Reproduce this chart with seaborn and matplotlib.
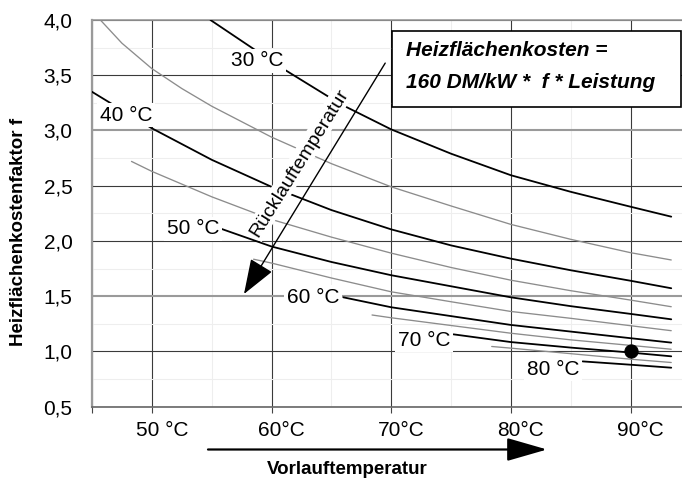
import matplotlib
matplotlib.use("Agg")
import matplotlib.pyplot as plt
import matplotlib.transforms as mtransforms
from matplotlib.patches import Rectangle, FancyArrowPatch
import numpy as np
import pandas as pd
import seaborn as sns

# Vorlauftemperatur (°C) und Heizflächenkostenfaktor f je Rücklauftemperatur
vorlauf_30 = [54.9, 58.2, 61.1, 64.7, 66.3, 70, 75, 80, 85, 90, 93.4]
faktor_30 = [4.0, 3.76, 3.55, 3.31, 3.21, 3.01, 2.79, 2.595, 2.445, 2.31, 2.22]
vorlauf_35 = [45.7, 47.5, 50, 52.5, 55, 60, 65, 70, 75, 80, 85, 90, 93.4]
faktor_35 = [4.0, 3.79, 3.56, 3.38, 3.22, 2.94, 2.70, 2.49, 2.317, 2.15, 2.015, 1.894, 1.828]
vorlauf_40 = [45, 50, 55, 60, 65, 70, 75, 80, 85, 90, 93.4]
faktor_40 = [3.35, 3.02, 2.735, 2.49, 2.28, 2.105, 1.96, 1.84, 1.735, 1.64, 1.572]
vorlauf_45 = [48.3, 50, 55, 60, 65, 70, 75, 80, 85, 90, 93.4]
faktor_45 = [2.72, 2.63, 2.40, 2.195, 2.035, 1.89, 1.76, 1.645, 1.55, 1.465, 1.405]
vorlauf_50 = [55.8, 60, 65, 70, 75, 80, 85, 90, 93.4]
faktor_50 = [2.11, 1.95, 1.81, 1.69, 1.59, 1.49, 1.41, 1.34, 1.291]
vorlauf_55 = [58.5, 60, 65, 70, 75, 80, 85, 90, 93.4]
faktor_55 = [1.835, 1.80, 1.665, 1.54, 1.45, 1.362, 1.30, 1.233, 1.188]
vorlauf_60 = [66.0, 70, 75, 80, 85, 90, 93.4]
faktor_60 = [1.49, 1.40, 1.32, 1.24, 1.18, 1.12, 1.08]
vorlauf_65 = [68.4, 70, 75, 80, 85, 90, 93.4]
faktor_65 = [1.33, 1.305, 1.235, 1.165, 1.105, 1.055, 1.02]
vorlauf_70 = [75.2, 80, 85, 90, 93.4]
faktor_70 = [1.155, 1.085, 1.035, 0.99, 0.956]
vorlauf_75 = [78.4, 80, 85, 90, 93.4]
faktor_75 = [1.045, 1.03, 0.98, 0.93, 0.90]
vorlauf_80 = [86.0, 90, 93.4]
faktor_80 = [0.91, 0.88, 0.853]

ruecklauf = [30, 35, 40, 45, 50, 55, 60, 65, 70, 75, 80]
vorlauf_all = [vorlauf_30, vorlauf_35, vorlauf_40, vorlauf_45, vorlauf_50, vorlauf_55,
               vorlauf_60, vorlauf_65, vorlauf_70, vorlauf_75, vorlauf_80]
faktor_all = [faktor_30, faktor_35, faktor_40, faktor_45, faktor_50, faktor_55,
              faktor_60, faktor_65, faktor_70, faktor_75, faktor_80]

# Auslegungspunkt 90/70
punkt_vorlauf = [90]
punkt_faktor = [1.0]

# Kurvenbeschriftungen
label_text = ['30 °C', '40 °C', '50 °C', '60 °C', '70 °C', '80 °C']
label_vorlauf = [58.8, 47.85, 53.45, 63.45, 72.75, 83.5]
label_faktor = [3.63, 3.14, 2.11, 1.49, 1.10, 0.84]

x_ticks = [45, 50, 60, 70, 80, 90]
x_ticklabels = ['', '50 °C', '60°C', '70°C', '80°C', '90°C']
y_ticks = [0.5, 1.0, 1.5, 2.0, 2.5, 3.0, 3.5, 4.0]
y_ticklabels = ['0,5', '1,0', '1,5', '2,0', '2,5', '3,0', '3,5', '4,0']

df = pd.concat([
    pd.DataFrame({'Vorlauf': v, 'f': f, 'Ruecklauf': r})
    for v, f, r in zip(vorlauf_all, faktor_all, ruecklauf)
], ignore_index=True)

sns.set_style("white")
plt.rcParams['font.family'] = ['Liberation Sans', 'DejaVu Sans']
plt.rcParams['text.color'] = 'black'
plt.rcParams['xtick.color'] = 'black'
plt.rcParams['ytick.color'] = 'black'
plt.rcParams['axes.labelcolor'] = 'black'

W, H = 682, 480
fig = plt.figure(figsize=(W / 100, H / 100), dpi=100)
ax = fig.add_axes([92 / W, 1 - 406.7 / H, 590 / W, 386.7 / H])

for r in ruecklauf:
    sub = df[df['Ruecklauf'] == r]
    black = r % 10 == 0
    sns.lineplot(data=sub, x='Vorlauf', y='f', ax=ax, sort=False, estimator=None,
                 color='black' if black else '#8c8c8c',
                 linewidth=1.3 if black else 0.95, zorder=3)

sns.scatterplot(x=punkt_vorlauf, y=punkt_faktor, ax=ax, color='black', s=90,
                edgecolor='black', zorder=6)

for t, xv, yv in zip(label_text, label_vorlauf, label_faktor):
    ax.text(xv, yv, t, fontsize=15, ha='center', va='center', zorder=5,
            bbox=dict(boxstyle='square,pad=0.12', fc='white', ec='none'))

# Pfeil Rücklauftemperatur
ax.annotate('', xy=(57.7, 1.52), xytext=(69.5, 3.61), zorder=7,
            arrowprops=dict(arrowstyle='-|>,head_length=1.1,head_width=0.4',
                            color='black', lw=1.0, mutation_scale=20,
                            shrinkA=0, shrinkB=0))
ax.text(62.3, 2.71, 'Rücklauftemperatur', rotation=58, fontsize=14,
        ha='center', va='center', rotation_mode='anchor', zorder=5,
        bbox=dict(boxstyle='square,pad=0.1', fc='white', ec='none'))

ax.set_xlim(45, 94.3)
ax.set_ylim(0.5, 4.0)
ax.set_xticks(x_ticks)
ax.set_xticklabels(x_ticklabels)
ax.set_yticks(y_ticks)
ax.set_yticklabels(y_ticklabels)
ax.set_xticks([55, 65, 75, 85], minor=True)
ax.set_yticks(np.arange(0.75, 4.0, 0.5), minor=True)
ax.tick_params(axis='x', which='major', length=4, width=0.8, color='#444444',
               direction='out', pad=6, labelsize=15, bottom=True)
ax.tick_params(axis='y', which='major', length=0, pad=14, labelsize=15)
ax.tick_params(which='minor', length=0)
ax.set_xlabel('')
ax.set_ylabel('')

ax.grid(True, which='major', color='#3a3a3a', linewidth=0.8)
ax.grid(True, which='minor', color='#eeeeee', linewidth=0.8)
ax.set_axisbelow(True)
for val, line in zip(y_ticks, ax.get_ygridlines()):
    if val in (1.5, 3.0):
        line.set_color('#9a9a9a')
        line.set_linewidth(1.5)

ax.spines['right'].set_visible(False)
ax.spines['left'].set_color('#9a9a9a')
ax.spines['left'].set_linewidth(1.6)
ax.spines['top'].set_color('#9a9a9a')
ax.spines['top'].set_linewidth(1.2)
ax.spines['bottom'].set_color('#666666')
ax.spines['bottom'].set_linewidth(1.2)

# Tick-Beschriftungen leicht nach rechts versetzt
shift = mtransforms.ScaledTranslation(10 / 100, 0, fig.dpi_scale_trans)
for lab in ax.get_xticklabels():
    lab.set_transform(lab.get_transform() + shift)

fig.text(18.5 / W, 1 - 231.5 / H, 'Heizflächenkostenfaktor f', rotation=90,
         fontsize=13.5, fontweight='bold', ha='center', va='center')
fig.text(347 / W, 1 - 470 / H, 'Vorlauftemperatur', fontsize=13.5,
         fontweight='bold', ha='center', va='center')
fig.add_artist(FancyArrowPatch(
    (208 / W, 1 - 449.5 / H), (547 / W, 1 - 449.5 / H), transform=fig.transFigure,
    arrowstyle='-|>,head_length=1.25,head_width=0.36', mutation_scale=20,
    color='black', lw=1.6, shrinkA=0, shrinkB=0))

# Kostenformel-Kasten
fig.add_artist(Rectangle((391.7 / W, 1 - 106.7 / H), 289 / W, 76 / H,
                         transform=fig.transFigure, fc='white', ec='black',
                         lw=1.2, zorder=8))
fig.text(406 / W, 1 - 51 / H, 'Heizflächenkosten =', fontsize=15,
         fontweight='bold', fontstyle='italic', ha='left', va='center', zorder=9)
fig.text(406 / W, 1 - 83 / H, '160 DM/kW *  f * Leistung', fontsize=15,
         fontweight='bold', fontstyle='italic', ha='left', va='center', zorder=9)

fig.savefig('out.png', dpi=100)
